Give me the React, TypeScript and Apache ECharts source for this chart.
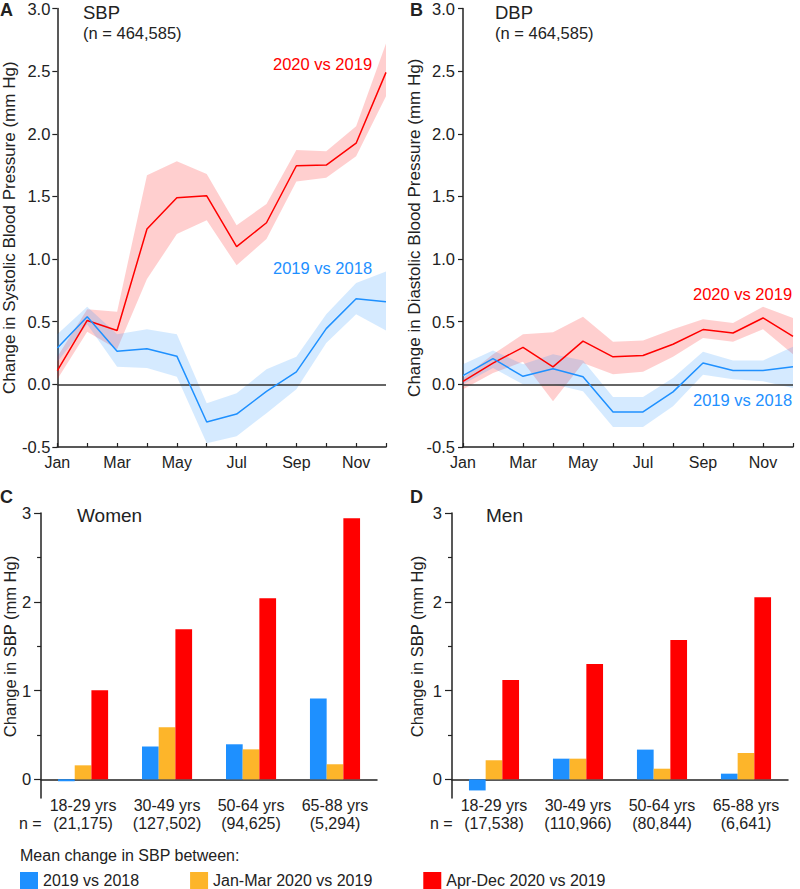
import React, { useEffect, useRef } from "react";
import * as echarts from "echarts";

const months = ["Jan", "Feb", "Mar", "Apr", "May", "Jun", "Jul", "Aug", "Sep", "Oct", "Nov", "Dec"];
const yTicksLine = [-0.5, 0, 0.5, 1, 1.5, 2, 2.5, 3];

// Panel A: SBP
const sbp2020 = [0.11, 0.51, 0.43, 1.24, 1.49, 1.505, 1.1, 1.29, 1.745, 1.75, 1.925, 2.49];
const sbp2020Lo = [0.04, 0.42, 0.28, 0.84, 1.2, 1.31, 0.95, 1.16, 1.62, 1.65, 1.82, 2.3];
const sbp2020Hi = [0.22, 0.6, 0.58, 1.67, 1.78, 1.68, 1.27, 1.44, 1.87, 1.86, 2.06, 2.72];
const sbp2019 = [0.29, 0.54, 0.265, 0.285, 0.225, -0.3, -0.237, -0.056, 0.1, 0.445, 0.684, 0.66];
const sbp2019Lo = [0.18, 0.48, 0.14, 0.13, 0.06, -0.47, -0.415, -0.23, -0.04, 0.33, 0.56, 0.43];
const sbp2019Hi = [0.4, 0.62, 0.4, 0.44, 0.4, -0.15, -0.07, 0.12, 0.22, 0.56, 0.81, 0.9];

// Panel B: DBP
const dbp2020 = [0.024, 0.17, 0.295, 0.14, 0.345, 0.22, 0.23, 0.32, 0.437, 0.41, 0.53, 0.383];
const dbp2020Lo = [-0.04, 0.09, 0.18, -0.135, 0.17, 0.08, 0.1, 0.22, 0.37, 0.34, 0.44, 0.24];
const dbp2020Hi = [0.05, 0.24, 0.4, 0.415, 0.54, 0.34, 0.35, 0.44, 0.52, 0.49, 0.62, 0.53];
const dbp2019 = [0.07, 0.205, 0.064, 0.125, 0.06, -0.22, -0.22, -0.06, 0.17, 0.11, 0.11, 0.14];
const dbp2019Lo = [0.0, 0.13, 0.0, 0.0, -0.055, -0.34, -0.34, -0.175, 0.077, 0.04, 0.025, -0.03];
const dbp2019Hi = [0.16, 0.27, 0.16, 0.24, 0.19, -0.1, -0.1, 0.05, 0.26, 0.19, 0.19, 0.3];

// Panels C & D
const ageGroups = ["18-29 yrs", "30-49 yrs", "50-64 yrs", "65-88 yrs"];
const nWomen = ["21,175", "127,502", "94,625", "5,294"];
const nMen = ["17,538", "110,966", "80,844", "6,641"];
const barSeriesNames = ["2019 vs 2018", "Jan-Mar 2020 vs 2019", "Apr-Dec 2020 vs 2019"];
const women2019 = [-0.02, 0.37, 0.395, 0.91];
const womenJanMar = [0.158, 0.587, 0.338, 0.17];
const womenAprDec = [1.005, 1.69, 2.04, 2.94];
const men2019 = [-0.125, 0.233, 0.335, 0.064];
const menJanMar = [0.215, 0.233, 0.12, 0.297];
const menAprDec = [1.12, 1.3, 1.57, 2.05];
const barMajorTicks = [0, 1, 2, 3];
const barMinorTicks = [0.5, 1.5, 2.5];

const FONT = "Liberation Sans, Arial, Helvetica, sans-serif";
const INK = "#222";
const RED = "#ff0000";
const BLUE = "#1e90ff";
const YELLOW = "#fdb52a";
const RED_BAND = "rgba(255,0,0,0.19)";
const BLUE_BAND = "rgba(30,144,255,0.19)";

function bandSeries(lo: number[], hi: number[], color: string, stack: string, idx: number) {
  return [
    {
      type: "line",
      xAxisIndex: idx,
      yAxisIndex: idx,
      data: lo,
      stack,
      stackStrategy: "all",
      symbol: "none",
      lineStyle: { opacity: 0 },
      silent: true,
      z: 1,
    },
    {
      type: "line",
      xAxisIndex: idx,
      yAxisIndex: idx,
      data: hi.map((h, i) => h - lo[i]),
      stack,
      stackStrategy: "all",
      symbol: "none",
      lineStyle: { opacity: 0 },
      areaStyle: { color, opacity: 1 },
      silent: true,
      z: 1,
    },
  ];
}

function lineSeries(data: number[], color: string, idx: number, zero: boolean) {
  const s: any = {
    type: "line",
    xAxisIndex: idx,
    yAxisIndex: idx,
    data,
    symbol: "none",
    lineStyle: { color, width: 1.5 },
    z: 3,
  };
  if (zero) {
    s.markLine = {
      silent: true,
      symbol: "none",
      label: { show: false },
      lineStyle: { color: "#333", width: 1.5, type: "solid" },
      data: [{ yAxis: 0 }],
      z: 2,
    };
  }
  return s;
}

function lineXAxis(grid: number) {
  return {
    type: "category",
    gridIndex: grid,
    data: months,
    boundaryGap: false,
    axisLine: { onZero: false, lineStyle: { color: INK, width: 1.5 } },
    axisTick: { show: true, inside: true, length: 4, interval: 0, lineStyle: { color: INK, width: 1.2 } },
    axisLabel: { interval: 1, color: INK, fontSize: 16, fontFamily: FONT, margin: 7 },
    splitLine: { show: false },
  };
}

function lineYAxis(grid: number, name: string, gap: number, margin: number) {
  return {
    type: "value",
    gridIndex: grid,
    min: yTicksLine[0],
    max: yTicksLine[yTicksLine.length - 1],
    interval: 0.5,
    name,
    nameLocation: "middle",
    nameGap: gap,
    nameTextStyle: { color: INK, fontSize: 17, fontFamily: FONT },
    axisLine: { show: true, lineStyle: { color: INK, width: 1.5 } },
    axisTick: { show: true, length: 5, lineStyle: { color: INK, width: 1.2 } },
    axisLabel: { color: INK, fontSize: 16.5, fontFamily: FONT, margin: margin, formatter: (v: number) => v.toFixed(1) },
    splitLine: { show: false },
  };
}

function barXAxis(grid: number, ns: string[], zeroIdx: number) {
  return {
    type: "category",
    gridIndex: grid,
    data: ageGroups,
    axisLine: { onZero: true, onZeroAxisIndex: zeroIdx, lineStyle: { color: INK, width: 1.5 } },
    axisTick: { show: false },
    axisLabel: {
      color: INK,
      fontSize: 16,
      fontFamily: FONT,
      lineHeight: 18,
      margin: -2,
      interval: 0,
      formatter: (v: string, i: number) => `${v}\n(${ns[i]})`,
    },
    splitLine: { show: false },
  };
}

function barYAxes(grid: number, gap: number) {
  return [
    {
      type: "value",
      gridIndex: grid,
      position: "left",
      min: -0.21,
      max: 3,
      name: "Change in SBP (mm Hg)",
      nameLocation: "middle",
      nameGap: gap,
      nameTextStyle: { color: INK, fontSize: 16.5, fontFamily: FONT, padding: [0, 0, 0, 18] },
      axisLine: { show: true, onZero: false, lineStyle: { color: INK, width: 1.5 } },
      axisTick: { show: true, length: 7, customValues: barMajorTicks, lineStyle: { color: INK, width: 1.2 } },
      axisLabel: { color: INK, fontSize: 16.5, fontFamily: FONT, margin: 10, customValues: barMajorTicks },
      splitLine: { show: false },
    },
    {
      type: "value",
      gridIndex: grid,
      position: "left",
      min: -0.21,
      max: 3,
      axisLine: { show: false, onZero: false },
      axisTick: { show: true, length: 4, customValues: barMinorTicks, lineStyle: { color: INK, width: 1.2 } },
      axisLabel: { show: false },
      splitLine: { show: false },
    },
  ];
}

function barSeries(grid: number, yIdx: number, vals: number[][]) {
  const colors = [BLUE, YELLOW, RED];
  return vals.map((d, k) => ({
    type: "bar",
    name: barSeriesNames[k],
    xAxisIndex: grid,
    yAxisIndex: yIdx,
    data: d,
    barWidth: 16.7,
    barGap: "0%",
    itemStyle: { color: colors[k] },
  }));
}

function txt(text: string, x: number, y: number, opts: any = {}) {
  return {
    type: "text",
    x,
    y,
    silent: true,
    style: {
      text,
      fill: opts.fill || INK,
      fontSize: opts.fontSize || 16,
      fontFamily: FONT,
      fontWeight: opts.fontWeight || "normal",
      textAlign: opts.align || "left",
      textVerticalAlign: "middle",
    },
  };
}

export default function App() {
  const ref = useRef<HTMLDivElement>(null);
  useEffect(() => {
    document.body.style.margin = "0";
    const chart = echarts.init(ref.current!, null, { renderer: "svg" });
    const option: any = {
      animation: false,
      backgroundColor: "#ffffff",
      textStyle: { fontFamily: FONT },
      grid: [
        { left: 53, top: 7, width: 333, height: 440 },
        { left: 463, top: 7, width: 330, height: 440 },
        { left: 41, top: 513, width: 336, height: 285 },
        { left: 452, top: 513, width: 336, height: 285 },
      ],
      xAxis: [lineXAxis(0), lineXAxis(1), barXAxis(2, nWomen, 2), barXAxis(3, nMen, 4)],
      yAxis: [
        lineYAxis(0, "Change in Systolic Blood Pressure (mm Hg)", 33, 7),
        lineYAxis(1, "Change in Diastolic Blood Pressure (mm Hg)", 37, 8),
        ...barYAxes(2, 21),
        ...barYAxes(3, 27),
      ],
      legend: {
        data: barSeriesNames,
        left: 20,
        top: 872,
        padding: 0,
        icon: "rect",
        itemWidth: 18,
        itemHeight: 17,
        itemGap: 51,
        selectedMode: false,
        textStyle: { color: INK, fontSize: 16, fontFamily: FONT },
      },
      series: [
        ...bandSeries(sbp2020Lo, sbp2020Hi, RED_BAND, "aRed", 0),
        ...bandSeries(sbp2019Lo, sbp2019Hi, BLUE_BAND, "aBlue", 0),
        lineSeries(sbp2020, RED, 0, true),
        lineSeries(sbp2019, BLUE, 0, false),
        ...bandSeries(dbp2020Lo, dbp2020Hi, RED_BAND, "bRed", 1),
        ...bandSeries(dbp2019Lo, dbp2019Hi, BLUE_BAND, "bBlue", 1),
        lineSeries(dbp2020, RED, 1, true),
        lineSeries(dbp2019, BLUE, 1, false),
        ...barSeries(2, 2, [women2019, womenJanMar, womenAprDec]),
        ...barSeries(3, 4, [men2019, menJanMar, menAprDec]),
      ],
      graphic: [
        txt("A", 0, 10, { fontWeight: "bold", fontSize: 18 }),
        txt("SBP", 83, 12, { fontSize: 18.5 }),
        txt("(n = 464,585)", 83, 33, { fontSize: 16.5 }),
        txt("2020 vs 2019", 273, 64, { fill: RED, fontSize: 16.5 }),
        txt("2019 vs 2018", 273, 268, { fill: BLUE, fontSize: 16.5 }),
        txt("B", 410, 10, { fontWeight: "bold", fontSize: 18 }),
        txt("DBP", 495, 12, { fontSize: 18.5 }),
        txt("(n = 464,585)", 495, 33, { fontSize: 16.5 }),
        txt("2020 vs 2019", 693, 294, { fill: RED, fontSize: 16.5 }),
        txt("2019 vs 2018", 693, 400, { fill: BLUE, fontSize: 16.5 }),
        txt("C", 0, 497, { fontWeight: "bold", fontSize: 18 }),
        txt("D", 410, 497, { fontWeight: "bold", fontSize: 18 }),
        txt("Women", 77, 515, { fontSize: 19 }),
        txt("Men", 486, 515, { fontSize: 19 }),
        txt("n =", 19, 823),
        txt("n =", 430, 823),
        txt("Mean change in SBP between:", 20, 855),
      ],
    };
    chart.setOption(option);
    return () => chart.dispose();
  }, []);
  return <div ref={ref} style={{ width: 800, height: 889 }} />;
}
